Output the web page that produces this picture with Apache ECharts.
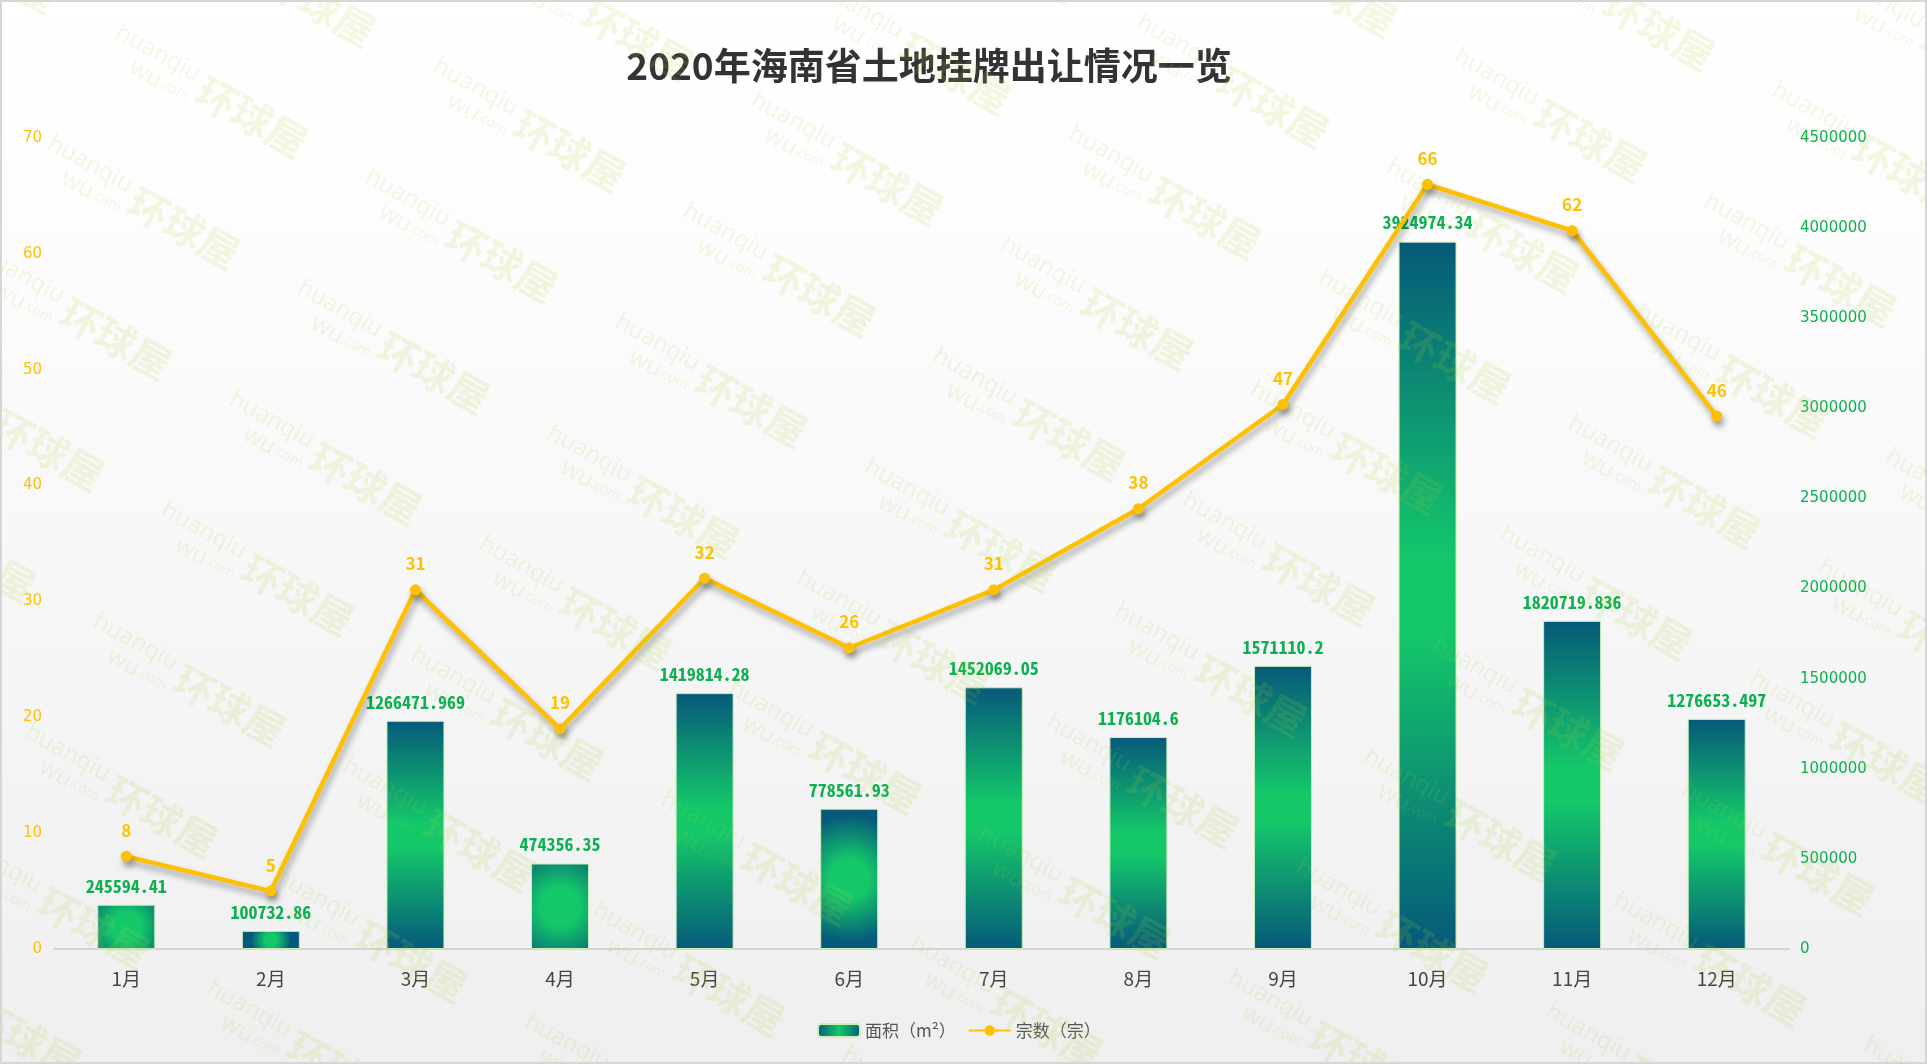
<!DOCTYPE html>
<html>
<head>
<meta charset="utf-8">
<script src="https://cdn.jsdelivr.net/npm/echarts@6/dist/echarts.min.js"></script>
<style>
html,body{margin:0;padding:0;width:1927px;height:1064px;overflow:hidden;}
#main{width:1927px;height:1064px;}
</style>
</head>
<body>
<div id="main"></div>
<script>
// ---- data ----
var months = ['1月','2月','3月','4月','5月','6月','7月','8月','9月','10月','11月','12月'];
var areas = [245594.41, 100732.86, 1266471.969, 474356.35, 1419814.28, 778561.93, 1452069.05, 1176104.6, 1571110.2, 3924974.34, 1820719.836, 1276653.497];
var counts = [8, 5, 31, 19, 32, 26, 31, 38, 47, 66, 62, 46];
var titleText = '2020年海南省土地挂牌出让情况一览';
var legendNames = ['面积（m²）', '宗数（宗）'];

// ---- styles ----
var DARK = '#06597a', BRIGHT = '#14c86a';
function linearBar() {
  return new echarts.graphic.LinearGradient(0, 0, 0, 1, [
    {offset: 0, color: DARK}, {offset: 0.45, color: BRIGHT},
    {offset: 0.55, color: BRIGHT}, {offset: 1, color: DARK}]);
}
function radialBar() {
  return new echarts.graphic.RadialGradient(0.5, 0.5, 1.1, [
    {offset: 0, color: BRIGHT}, {offset: 0.3, color: BRIGHT}, {offset: 1, color: DARK}]);
}
var legendBarColor = new echarts.graphic.LinearGradient(0, 0, 1, 0, [
  {offset: 0, color: DARK}, {offset: 0.5, color: BRIGHT}, {offset: 1, color: DARK}]);

// watermark lattice
var wmGraphics = [];
var rot = -29 * Math.PI / 180;
var wmColor = 'rgba(170,210,60,0.15)';
for (var i = -3; i <= 8; i++) {
  for (var j = -2; j <= 11; j++) {
    var cx = 252 + i * 317.7 - j * 68;
    var cy = 117 + i * 33.7 + j * 111;
    if (cx < -250 || cx > 2150 || cy < -120 || cy > 1200) continue;
    wmGraphics.push({
      type: 'group', x: cx, y: cy, rotation: rot, silent: true,
      children: [
        {type: 'text', z: 100, x: 0, y: 0, style: {text: '环球屋', fill: wmColor, font: 'bold 40px "Noto Sans CJK SC"', align: 'center', verticalAlign: 'middle'}},
        {type: 'text', z: 100, x: -113, y: -10, style: {text: 'huanqiu', fill: wmColor, font: '24px "Open Sans"', align: 'center', verticalAlign: 'middle'}},
        {type: 'text', z: 100, x: -98, y: 14, style: {text: '{a|wu}{b|.com}', fill: wmColor, align: 'center', verticalAlign: 'middle',
          rich: {a: {font: '24px "Open Sans"', fill: wmColor}, b: {font: '14px "Open Sans"', fill: wmColor}}}}
      ]
    });
  }
}
wmGraphics.push({type: 'rect', z: 200, silent: true, shape: {x: 1, y: 1, width: 1925, height: 1062},
  style: {fill: null, stroke: '#d6d6d6', lineWidth: 2}});

var chart = echarts.init(document.getElementById('main'), null, {renderer: 'canvas'});
chart.setOption({
  backgroundColor: new echarts.graphic.LinearGradient(0, 0, 0, 1, [
    {offset: 0, color: '#ffffff'}, {offset: 0.2, color: '#fdfdfd'}, {offset: 1, color: '#efefef'}]),
  animation: false,
  title: {
    text: titleText, left: 929, top: 47, textAlign: 'center', padding: 0,
    textStyle: {fontFamily: '"Noto Sans CJK SC"', fontSize: 37, fontWeight: 'bold', color: '#333333'}
  },
  legend: {
    left: 817, top: 1022, padding: 0, itemWidth: 42, itemHeight: 13, itemGap: 12,
    textStyle: {fontFamily: '"Noto Sans CJK SC"', fontSize: 17, color: '#555555'},
    data: legendNames
  },
  grid: {left: 54, right: 138, top: 138, bottom: 115, containLabel: false},
  xAxis: {
    type: 'category', data: months,
    axisLine: {lineStyle: {color: '#d4d4d4', width: 2}},
    axisTick: {show: false},
    axisLabel: {color: '#444444', fontSize: 19, margin: 20, fontFamily: '"Noto Sans CJK SC"'}
  },
  yAxis: [
    {type: 'value', min: 0, max: 70, interval: 10, position: 'left',
     splitLine: {show: false}, axisLine: {show: false}, axisTick: {show: false},
     axisLabel: {color: '#FFC000', fontSize: 15, margin: 12, fontFamily: '"DejaVu Sans"'}},
    {type: 'value', min: 0, max: 4500000, interval: 500000, position: 'right',
     splitLine: {show: false}, axisLine: {show: false}, axisTick: {show: false},
     axisLabel: {color: '#0cb050', fontSize: 15, margin: 11, fontFamily: '"DejaVu Sans"',
       formatter: function (v) { return String(v); }}}
  ],
  series: [
    {
      name: legendNames[0], type: 'bar', yAxisIndex: 1, barWidth: 58, z: 2,
      itemStyle: {color: legendBarColor, borderColor: '#cdeeb4', borderWidth: 1},
      label: {show: true, position: 'top', distance: 10, color: '#0cb050', fontSize: 18, fontWeight: 'bold',
        fontFamily: '"Noto Sans Mono CJK SC", "Liberation Mono", monospace',
        formatter: function (p) { return String(p.value); }},
      data: areas.map(function (v) {
        return {value: v, itemStyle: {color: v < 1000000 ? radialBar() : linearBar()}};
      })
    },
    {
      name: legendNames[1], type: 'line', yAxisIndex: 0, z: 5,
      symbol: 'circle', symbolSize: 11,
      lineStyle: {color: '#FFC000', width: 4.5, shadowColor: 'rgba(0,0,0,0.35)', shadowBlur: 6, shadowOffsetX: 2, shadowOffsetY: 5},
      itemStyle: {color: '#FFC000', shadowColor: 'rgba(0,0,0,0.35)', shadowBlur: 6, shadowOffsetX: 2, shadowOffsetY: 5},
      label: {show: true, position: 'top', distance: 12, color: '#FFC000', fontSize: 17, fontWeight: 'bold',
        fontFamily: '"Noto Sans CJK SC"'},
      data: counts
    }
  ],
  graphic: wmGraphics
});
</script>
</body>
</html>
